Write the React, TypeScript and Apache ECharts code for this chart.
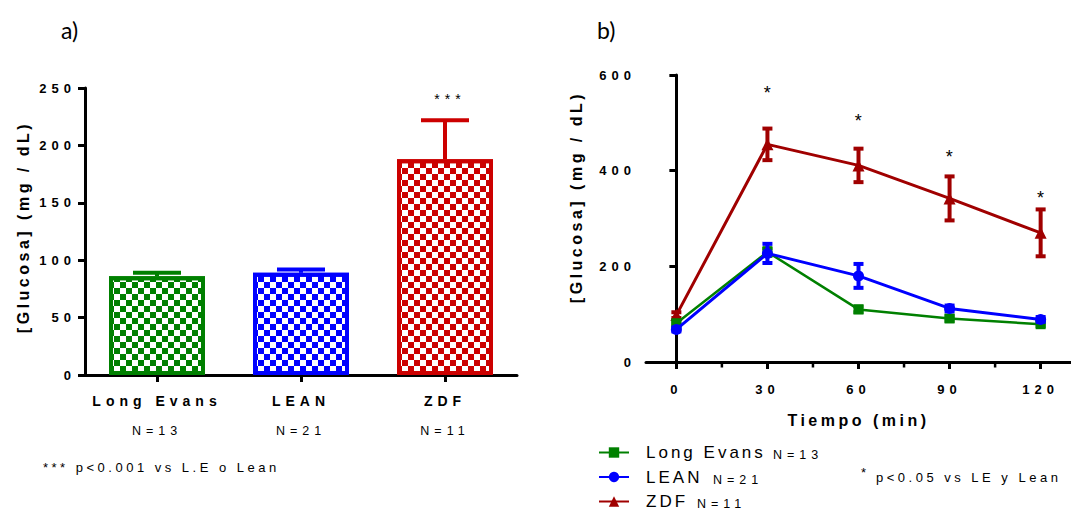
import React, { useEffect, useRef } from 'react';
import * as echarts from 'echarts';

// ---------- data ----------
const barCategories = ['Long Evans', 'LEAN', 'ZDF'];
const barNLabels = ['N=13', 'N=21', 'N=11'];
const barValues = [86, 89, 188];
const barErrors = [3, 3, 34];
const barSig = ['', '', '***'];
const barColors = ['#008000', '#0000FF', '#CC0000'];

const timeTicks = [0, 30, 60, 90, 120];
const timeMinorTicks = [15, 45, 75, 105];
const timePoints = [0, 30, 60, 90, 120];
const leValues = [81, 230, 110, 91, 79];
const leErrors = [4, 8, 6, 5, 4];
const leanValues = [68, 227, 180, 112, 89];
const leanErrors = [4, 20, 25, 6, 5];
const zdfValues = [98, 455, 411, 342, 270];
const zdfErrors = [6, 33, 35, 46, 49];
const starTimes = [30, 60, 90, 120];
const starLevels = [562, 504, 429, 343];
const lineNames = ['Long Evans', 'LEAN', 'ZDF'];
const lineNLabels = ['N=13', 'N=21', 'N=11'];
const lineColors = ['#008000', '#0000FF', '#A00000'];
const lineSymbols = ['rect', 'circle', 'triangle'];

const FONT = '"Liberation Sans", Arial, sans-serif';

const css = `
body { margin: 0; }
#chartbox svg text { letter-spacing: 3.5px; }
#chartbox svg text[style*="bold"][style*="13px"],
#chartbox svg text[style*="14px"],
#chartbox svg text[style*="12.5px"] { letter-spacing: 5px; }
#chartbox svg text[style*="17px"] { letter-spacing: 3px; }
#chartbox svg text[style*="23px"] { letter-spacing: 0px; }
`;

function makeDecal(c: string) {
  return {
    symbol: 'rect',
    symbolSize: 1,
    color: c,
    dashArrayX: [[5.5, 5.5], [0, 5.5, 5.5, 0]],
    dashArrayY: [5.5, 0],
    rotation: 0,
  };
}

function errRender(color: string, lw: number) {
  return (params: any, api: any) => {
    const x = api.value(0);
    const v = api.value(1);
    const e = api.value(2);
    const top = api.coord([x, v + e]);
    const bot = api.coord([x, v - e]);
    const hw = 5;
    const st = { stroke: color, lineWidth: lw };
    return {
      type: 'group',
      children: [
        { type: 'line', shape: { x1: top[0], y1: top[1], x2: bot[0], y2: bot[1] }, style: st },
        { type: 'line', shape: { x1: top[0] - hw, y1: top[1], x2: top[0] + hw, y2: top[1] }, style: st },
        { type: 'line', shape: { x1: bot[0] - hw, y1: bot[1], x2: bot[0] + hw, y2: bot[1] }, style: st },
      ],
    };
  };
}

function buildOption() {
  const axisLine = { show: true, lineStyle: { color: '#000', width: 3 } };
  const axisTick = { show: true, length: 7, lineStyle: { color: '#000', width: 3 } };
  const tickLabel = { color: '#000', fontSize: 13, fontWeight: 'bold', fontFamily: FONT };

  const lineSeriesValues = [leValues, leanValues, zdfValues];
  const lineSeriesErrors = [leErrors, leanErrors, zdfErrors];
  const zs = [3, 4, 2];
  const symSizes = [10, 11, 12];
  const lineWidths = [2.5, 3, 3];

  const lineSeries: any[] = [];
  lineNames.forEach((name, k) => {
    lineSeries.push({
      type: 'custom',
      name: name + ' err',
      xAxisIndex: 2,
      yAxisIndex: 1,
      z: zs[k],
      renderItem: errRender(lineColors[k], 4),
      encode: { x: 0, y: 1 },
      data: timePoints.map((t, i) => [t, lineSeriesValues[k][i], lineSeriesErrors[k][i]]),
    });
    lineSeries.push({
      type: 'line',
      name,
      xAxisIndex: 2,
      yAxisIndex: 1,
      z: zs[k],
      symbol: lineSymbols[k],
      symbolSize: symSizes[k],
      showAllSymbol: true,
      itemStyle: { color: lineColors[k] },
      lineStyle: { color: lineColors[k], width: lineWidths[k] },
      data: timePoints.map((t, i) => [t, lineSeriesValues[k][i]]),
    });
  });

  const graphicTexts: any[] = [
    { type: 'text', x: 61, y: 30, style: { text: 'a)', fontSize: 23, fontFamily: 'Lato', fill: '#000', align: 'left', verticalAlign: 'middle' } },
    { type: 'text', x: 597, y: 30, style: { text: 'b)', fontSize: 23, fontFamily: 'Lato', fill: '#000', align: 'left', verticalAlign: 'middle' } },
    { type: 'text', x: 23, y: 227, rotation: Math.PI / 2, style: { text: '[Glucosa] (mg / dL)', fontSize: 16, fontWeight: 'bold', fontFamily: FONT, fill: '#000', align: 'center', verticalAlign: 'middle' } },
    { type: 'text', x: 576, y: 197, rotation: Math.PI / 2, style: { text: '[Glucosa] (mg / dL)', fontSize: 16, fontWeight: 'bold', fontFamily: FONT, fill: '#000', align: 'center', verticalAlign: 'middle' } },
    { type: 'text', x: 43, y: 467, style: { text: '*** p<0.001 vs L.E o Lean', fontSize: 13, fontFamily: FONT, fill: '#000', align: 'left', verticalAlign: 'middle' } },
    { type: 'text', x: 861, y: 472, style: { text: '*', fontSize: 13, fontFamily: FONT, fill: '#000', align: 'left', verticalAlign: 'middle' } },
    { type: 'text', x: 876, y: 477, style: { text: 'p<0.05 vs LE y Lean', fontSize: 13, fontFamily: FONT, fill: '#000', align: 'left', verticalAlign: 'middle' } },
  ];
  const nX = [773, 713, 697];
  const nY = [455, 479.5, 504];
  lineNLabels.forEach((t, i) => {
    graphicTexts.push({ type: 'text', x: nX[i], y: nY[i], style: { text: t, fontSize: 12.5, fontFamily: FONT, fill: '#000', align: 'left', verticalAlign: 'middle' } });
  });

  return {
    animation: false,
    backgroundColor: '#fff',
    textStyle: { fontFamily: FONT },
    grid: [
      { left: 85, top: 88, width: 432, height: 287 },
      { left: 646, top: 75, width: 431, height: 287 },
    ],
    legend: {
      data: lineNames,
      orient: 'vertical',
      left: 598,
      top: 444,
      height: 120,
      padding: 0,
      itemWidth: 30,
      itemHeight: 13,
      itemGap: 7.5,
      textStyle: { fontSize: 17, color: '#000', fontFamily: FONT, padding: [0, 0, 0, 12] },
    },
    xAxis: [
      {
        type: 'category',
        gridIndex: 0,
        data: barCategories,
        boundaryGap: true,
        axisLine,
        axisTick: { ...axisTick, alignWithLabel: true },
        axisLabel: { ...tickLabel, fontSize: 14, margin: 18.5 },
        splitLine: { show: false },
      },
      {
        type: 'category',
        gridIndex: 0,
        position: 'bottom',
        data: barNLabels,
        axisLine: { show: false },
        axisTick: { show: false },
        axisLabel: { color: '#000', fontSize: 12.5, fontFamily: FONT, margin: 49 },
        splitLine: { show: false },
      },
      {
        type: 'value',
        gridIndex: 1,
        position: 'bottom',
        min: -10,
        max: 130,
        axisLine,
        axisTick: { ...axisTick, customValues: timeTicks },
        axisLabel: { ...tickLabel, margin: 20.5, customValues: timeTicks },
        splitLine: { show: false },
        name: 'Tiempo (min)',
        nameLocation: 'middle',
        nameGap: 50,
        nameTextStyle: { color: '#000', fontSize: 16, fontWeight: 'bold', fontFamily: FONT },
      },
    ],
    yAxis: [
      {
        type: 'value',
        gridIndex: 0,
        min: 0,
        max: 250,
        interval: 50,
        axisLine,
        axisTick,
        axisLabel: { ...tickLabel, margin: 9, padding: [5, 0, 0, 0] },
        splitLine: { show: false },
      },
      {
        type: 'value',
        gridIndex: 1,
        min: 0,
        max: 600,
        interval: 200,
        axisLine,
        axisTick,
        axisLabel: { ...tickLabel, margin: 10, padding: [5, 0, 0, 0] },
        splitLine: { show: false },
      },
    ],
    graphic: graphicTexts,
    series: [
      {
        type: 'bar',
        name: 'barras',
        xAxisIndex: 0,
        yAxisIndex: 0,
        barWidth: 96,
        data: barValues.map((v, i) => ({
          value: v,
          itemStyle: { color: '#ffffff', borderColor: barColors[i], borderWidth: 4, decal: makeDecal(barColors[i]) },
        })),
      },
      {
        type: 'custom',
        name: 'barras err',
        xAxisIndex: 0,
        yAxisIndex: 0,
        z: 3,
        encode: { x: 0, y: 1 },
        data: barValues.map((v, i) => [i, v, barErrors[i]]),
        renderItem: (params: any, api: any) => {
          const idx = params.dataIndex;
          const c = barColors[idx];
          const cat = api.value(0);
          const v = api.value(1);
          const e = api.value(2);
          const base = api.coord([cat, v]);
          const top = api.coord([cat, v + e]);
          const st = { stroke: c, lineWidth: 4 };
          const children: any[] = [
            { type: 'line', shape: { x1: base[0], y1: base[1], x2: top[0], y2: top[1] }, style: st },
            { type: 'line', shape: { x1: top[0] - 24, y1: top[1], x2: top[0] + 24, y2: top[1] }, style: st },
          ];
          if (barSig[idx]) {
            children.push({
              type: 'text',
              x: top[0] + 5,
              y: top[1] - 21,
              style: { text: barSig[idx], fontSize: 14, fontFamily: FONT, fill: '#000', align: 'center', verticalAlign: 'middle' },
            });
          }
          return { type: 'group', children };
        },
      },
      {
        type: 'custom',
        name: 'minor ticks',
        xAxisIndex: 2,
        yAxisIndex: 1,
        z: 1,
        clip: false,
        encode: { x: 0, y: 1 },
        data: timeMinorTicks.map((t) => [t, 0]),
        renderItem: (params: any, api: any) => {
          const p = api.coord([api.value(0), api.value(1)]);
          return {
            type: 'line',
            shape: { x1: p[0], y1: p[1], x2: p[0], y2: p[1] + 5.5 },
            style: { stroke: '#000', lineWidth: 2.5 },
          };
        },
      },
      ...lineSeries,
      {
        type: 'custom',
        name: 'sig',
        xAxisIndex: 2,
        yAxisIndex: 1,
        z: 5,
        encode: { x: 0, y: 1 },
        data: starTimes.map((t, i) => [t, starLevels[i]]),
        renderItem: (params: any, api: any) => {
          const p = api.coord([api.value(0), api.value(1)]);
          return {
            type: 'text',
            x: p[0] + 1.5,
            y: p[1],
            style: { text: '*', fontSize: 18, fontFamily: FONT, fill: '#000', align: 'center', verticalAlign: 'middle' },
          };
        },
      },
    ],
  };
}

export default function App() {
  const ref = useRef<HTMLDivElement>(null);
  useEffect(() => {
    if (!ref.current) return;
    const chart = echarts.init(ref.current, null, { renderer: 'svg' });
    chart.setOption(buildOption() as any);
    return () => chart.dispose();
  }, []);
  return (
    <>
      <style>{css}</style>
      <div id="chartbox" ref={ref} style={{ width: 1071, height: 511 }} />
    </>
  );
}
